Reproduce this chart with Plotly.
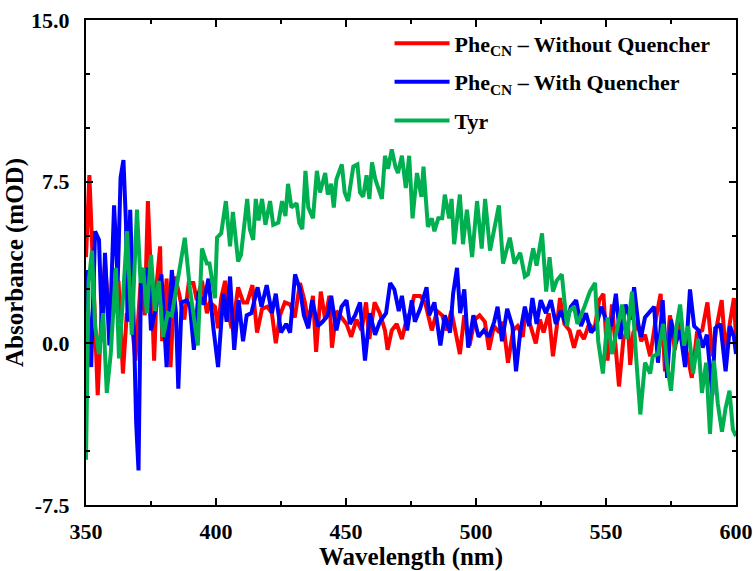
import plotly.graph_objects as go

# ---- data ----
red_wl = [350, 351.3, 353, 354.5, 356, 357.3, 359.2, 360.5, 362.5, 364.2, 365.7, 367.6, 369, 371, 372.6, 373.8,
          375.2, 376.2, 377.3, 378.5, 379.3, 381, 382.5, 384.2, 385.8, 387.8, 389.5, 391.3, 392.6, 394.6, 396.5,
          397.7, 399.6, 400.8, 402, 403.5, 404.8, 406, 407.3, 408.5, 410.5, 412, 414, 415.8, 417.7, 419.7, 421.5,
          423, 424.6, 426.5, 428.5, 430.3, 432.3, 434.2, 435.5, 437.3, 438.5, 440.3, 442, 443.6, 444.6, 446.3,
          448.3, 450.2, 452, 454, 456, 457.7, 459, 461, 463, 465, 466, 467.6, 469.5, 471.5, 473.5, 474.6, 476.2,
          478.5, 480.4, 483, 485, 487, 488.7, 490.5, 492.5, 493.8, 495.5, 497.5, 499.5, 501.4, 503.4, 505, 506.9,
          509, 510.4, 512.3, 514.3, 516, 518, 519, 521, 523, 524.6, 526, 528, 529.6, 531, 532.3, 534, 536, 537.7,
          539.5, 541.5, 543.5, 545.5, 547.4, 549, 550.6, 552.3, 554.2, 555, 556.7, 558.5, 559.3, 560.5, 562.4,
          563.5, 565, 567, 569, 571, 572.7, 574.6, 576.5, 578, 579.8, 581.4, 583, 585, 587, 589, 591, 592.6,
          594.5, 596, 597.7, 599.2, 600]
red_abs = [4.0, 7.8, 2.5, -2.4, 1.4, 3.7, 0.8, 1.4, 2.9, -1.4, 1.4, 1.0, -0.8, 2.8, 1.3, 6.6,
           2.5, -0.8, 2.9, 4.5, 0.1, 3.0, -1.1, 3.1, 2.3, 1.1, 2.8, 2.8, 2.0, 2.9, 1.4,
           1.9, 1.7, 0.7, 2.1, 2.9, 1.4, 0.7, 1.5, 2.6, 1.9, 1.9, 2.7, 0.5, 1.6, 1.7, 1.4,
           0.0, 1.3, 1.9, 1.8, 1.2, 2.8, 1.9, 0.9, 2.2, -0.4, 2.4, 1.1, 2.2, -0.2, 1.5,
           1.2, 0.9, 0.3, 1.1, 0.6, 1.9, 0.2, 1.9, 1.4, 0.6, -0.3, 0.6, 0.9, 0.2, 1.2, 1.4, 2.2,
           2.2, 1.9, 0.6, 1.5, 1.3, 0.6, 1.5, 0.3, -0.5, 1.3, -0.1, 1.1, 1.3, 1.0, -0.3, 0.8,
           0.5, 1.0, -0.9, 0.6, 0.8, 0.3, 1.5, 0.8, 0.0, 1.1, 0.5, 1.4, -0.6, 0.7, 2.1, 0.9, 0.6, -0.2,
           0.6, 0.2, 0.9, 0.6, 2.0, 2.3, -0.8, 1.8, -0.9, -2.0, 0.2, 0.7, -1.0, 0.5, 0.9,
           0.1, 0.4, -0.6, 1.0, 2.3, -1.3, 1.3, -0.3, 1.0, 0.2, -0.6, -1.6, 0.5, 0.6, 1.9, -0.6, 0.8,
           2.0, -0.4, 1.0, 2.1, 0.2]

blue_wl = [350, 352, 353.5, 355, 356.3, 357.3, 359, 360.8, 362.2, 363.3, 364.4, 365.4, 366, 367, 368.4, 369.3,
           370.2, 371.2, 372.5, 373.8, 375, 377, 379, 381, 383, 384.6, 385.5, 386.8, 388.8, 390, 391.5, 393.3,
           395.2, 397.1, 399, 400.8, 402.8, 404.1, 405.4, 407, 408.7, 410.4, 411.8, 413.6, 416, 417.5, 419.5,
           421.5, 423, 425, 427, 428.5, 430.4, 432.3, 433.8, 435.5, 437, 439.2, 441, 443, 444.3, 446.3, 448.3,
           450.2, 451.5, 453.5, 455.4, 457.3, 459.2, 461.2, 463, 465.4, 467, 468.6, 470.3, 471.5, 473.5, 475.3,
           476.5, 478.5, 481, 482, 484, 486.3, 488, 490, 491.2, 492.7, 493.9, 495.5, 497, 499, 501, 503, 505,
           507, 508.3, 510, 512, 514, 515.4, 517, 518.8, 520.4, 521.7, 523.3, 524.9, 526.9, 528.8, 530.7, 532.6,
           534.6, 536.5, 538.5, 540.4, 542.3, 544.3, 546.2, 548.2, 550, 552, 553.8, 555.5, 557.5, 559.4, 560.8,
           562.5, 563.5, 565, 567, 568.5, 570, 571.8, 573.5, 575, 576.8, 578.5, 580.4, 582.3, 583.9, 585.6,
           587.2, 588.8, 590.9, 592, 594, 596, 597.7, 599.2, 600]
blue_abs = [3.4, -1.1, 5.2, 4.8, 0.1, 4.2, -0.1, 6.4, 2.9, 7.7, 8.5, 5.5, 1.0, 6.2, 0.8, -3.7,
            -5.9, 3.5, 2.5, 3.5, 0.6, 1.7, 3.2, -1.1, 3.4, 1.4, -2.1, 1.9, 2.0, 1.7, -0.3, 2.4,
            1.8, 3.0, 0.7, -1.1, 2.3, 1.0, 3.1, -0.3, 2.0, 0.1, 1.3, 1.4, 2.6, 1.7, 2.7,
            1.4, 2.3, 0.5, 0.9, 0.5, 3.2, 2.5, 1.3, 0.7, 2.0, 0.8, 1.0, 1.3, 2.2, 0.6, 1.7,
            2.0, 0.9, 1.3, 1.9, -0.8, 1.4, 0.4, 1.0, 1.4, 2.8, 2.5, 1.5, 2.2, 0.6, 2.0,
            1.0, 1.6, 2.6, 1.3, 1.9, -0.1, 1.3, 0.5, 2.3, 3.5, 1.4, 2.5, -0.2, 1.3, 0.3, 0.6, 0.3,
            1.0, 1.7, 0.1, 1.6, 0.8, -1.3, 0.5, 1.7, 0.8, 2.1, 0.9, 2.0, 1.4, 2.0, 0.9, 1.5,
            0.9, 1.7, 2.0, 0.8, 1.4, 0.5, 0.8, 1.7, 1.1, 0.8, 2.3, 0.2, 1.8, 1.1, 2.6,
            0.8, 0.3, 1.2, 1.5, 1.7, -0.9, 2.0, -1.6, 1.1, 0.0, 0.6, -1.1, 2.5, 0.8, 0.6,
            -0.2, 0.4, -2.4, 0.7, 0.9, -1.3, 0.8, 0.3, -0.5]

green_wl = [350, 351, 352.3, 353.5, 355, 356.6, 358, 359.5, 361.5, 362.7, 364, 365.8, 367.6, 368.6, 369.6, 371,
            372, 373.4, 375, 376.5, 378, 379.6, 381.5, 383, 386, 388, 390, 393, 394.6, 396.5, 397.5, 399.6,
            400.4, 402, 403.8, 405.4, 406.5, 408.5, 409.6, 412, 413, 414.3, 415.3, 416.4, 417.7, 419, 420.8,
            422, 424, 425.4, 426.7, 427.7, 429, 431, 432, 433.2, 434.4, 435.5, 437.3, 438.8, 440, 442, 443,
            444.3, 445.3, 446.3, 448.4, 449.5, 450.8, 452.8, 454.4, 455.4, 456.6, 457.9, 459, 460, 461.3,
            462.5, 463.8, 465, 466.2, 467.6, 469, 470, 471.5, 473, 474.3, 475.6, 477.3, 479, 479.8, 481.5,
            483, 484, 485.5, 487, 488, 489.7, 490.6, 491.6, 493.8, 495, 496.5, 498.5, 500.4, 502.2, 503.5,
            505.4, 506.7, 508.8, 510.4, 513, 514.8, 517, 518.8, 520, 522, 523.3, 525.4, 527, 528.3, 529.6,
            531, 533, 535, 536, 537.7, 539, 541.7, 543.8, 545.8, 547, 548.8, 550.6, 552.3, 554.2, 556.2,
            558, 560, 561.5, 563.2, 565, 567, 568, 570, 572, 573.4, 575, 577, 578.5, 580, 581.6, 583.5,
            585.4, 586.9, 588.5, 590, 591.5, 593, 594.6, 596, 597.5, 598.8, 600]
green_abs = [-5.4, 2.8, 4.3, 0.8, -0.5, 1.4, -2.3, -0.5, 3.5, -0.7, 1.7, 5.2, 0.4, 3.5, 6.2, 2.8,
             3.5, 1.4, 4.1, 1.5, 2.9, 0.3, 1.4, 1.3, 3.4, 4.9, 2.5, -0.1, 4.4, 3.7, 3.7, 2.1,
             4.9, 5.1, 6.6, 4.5, 6.1, 3.8, 4.1, 6.7, 5.3, 4.8, 6.7, 5.7, 6.7, 5.5, 6.6,
             5.5, 5.6, 6.6, 5.9, 7.4, 6.3, 6.5, 5.6, 5.3, 8.0, 6.3, 5.8, 8.0, 7.0, 7.9, 6.9,
             7.4, 6.3, 7.6, 8.3, 7.0, 6.6, 8.2, 8.3, 7.0, 6.8, 7.8, 6.7, 8.4, 7.6,
             7.2, 6.7, 8.7, 8.1, 9.0, 8.2, 7.9, 8.7, 7.2, 8.7, 5.8, 7.9, 6.8, 8.2, 5.4,
             5.8, 5.2, 5.8, 5.8, 6.9, 5.8, 6.7, 4.6, 6.9, 4.6, 6.2, 4.0, 6.6, 4.4, 6.7,
             4.3, 5.2, 6.4, 3.7, 4.9, 3.7, 4.2, 3.1, 3.2, 4.4, 3.6, 5.1, 2.4, 4.0, 2.4,
             2.9, 3.2, 0.8, 1.5, 1.7, 0.9, 1.7, 2.4, 2.8, 0.1, -1.4, 1.2, -0.5, 0.7, 1.8,
             0.2, 2.4, -0.5, -3.3, -0.9, -1.4, -0.6, -0.5, 0.9, -0.9, -2.2, 0.7, 1.8, -0.1, 0.8, -1.4,
             0.2, -2.3, -0.9, -4.2, -0.8, -2.8, -4.1, -3.0, -2.2, -4.0, -4.3]

series_names = ["Phe<sub>CN</sub> – Without Quencher", "Phe<sub>CN</sub> – With Quencher", "Tyr"]
series_colors = ["#FF0000", "#0000FF", "#00B050"]
x_ticks = [350, 400, 450, 500, 550, 600]
y_ticks = [-7.5, 0.0, 7.5, 15.0]

FONT = "Liberation Serif"

fig = go.Figure()
for name, color, xs, ys, grp in zip(series_names, series_colors,
                                     [red_wl, blue_wl, green_wl],
                                     [red_abs, blue_abs, green_abs],
                                     ["a", "b", "c"]):
    fig.add_trace(go.Scatter(x=xs, y=ys, mode="lines", name=name, legendgroup=grp,
                             line=dict(color=color, width=4)))

axis_common = dict(showline=True, linecolor="black", linewidth=2, mirror="ticks",
                   ticks="inside", ticklen=7, tickwidth=1.5, tickcolor="black",
                   showgrid=False, zeroline=False, automargin=False,
                   tickfont=dict(family=FONT, size=22, color="black", weight="bold"))

fig.update_xaxes(range=[350, 600], tickvals=x_ticks, ticktext=[str(v) for v in x_ticks],
                 minor=dict(dtick=25, ticks="inside", ticklen=4, tickcolor="black", tickwidth=1.5),
                 ticklabelstandoff=6,
                 title=dict(text="<b>Wavelength (nm)</b>", font=dict(family=FONT, size=25, color="black"),
                            standoff=22),
                 **axis_common)
fig.update_yaxes(range=[-7.5, 15], tickvals=y_ticks, ticktext=[f"{v:.1f}" for v in y_ticks],
                 minor=dict(dtick=2.5, tick0=0, ticks="inside", ticklen=4, tickcolor="black", tickwidth=1.5),
                 ticklabelstandoff=10,
                 title=dict(text="<b>Absorbance (mOD)</b>", font=dict(family=FONT, size=25, color="black"),
                            standoff=0),
                 **axis_common)

fig.update_layout(
    width=753, height=571,
    margin=dict(l=86, r=17, t=20, b=66),
    plot_bgcolor="white", paper_bgcolor="white",
    showlegend=True,
    legend=dict(x=0.467, y=0.995, xanchor="left", yanchor="top", bgcolor="rgba(0,0,0,0)",
                font=dict(family=FONT, size=22, color="black", weight="bold"),
                tracegroupgap=7, itemwidth=55),
)

# remove the default page margin so the figure sits at the window's top-left corner
fig.write_html("out.html", config={"displayModeBar": False},
               post_script="document.body.style.margin='0px';document.body.style.overflow='hidden';window.scrollTo(0,0);")
